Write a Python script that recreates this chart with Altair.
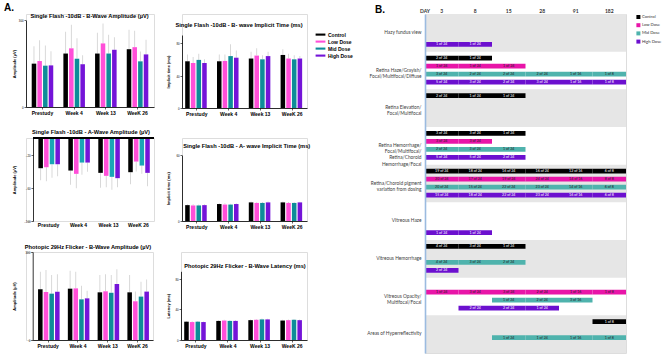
import altair as alt
import pandas as pd

FONT = "Liberation Sans"
BFONT = "Lato"

visits = ["Prestudy", "Week 4", "Week 13", "WeeK 26"]
doses = ["Control", "Low Dose", "Mid Dose", "High Dose"]

# Panel A values: one row per visit, columns = Control, Low, Mid, High dose
b_amp_mean = [[150, 159, 143, 144], [185, 203, 167, 148], [185, 220, 185, 198], [200, 207, 158, 182]]
b_amp_sd = [[60, 72, 70, 49], [75, 82, 71, 31], [72, 69, 65, 43], [67, 57, 34, 51]]
b_imp_mean = [[57.6, 55.5, 59.3, 55.5], [57.6, 58, 64, 62], [61, 64.6, 60, 64], [65.4, 61, 60, 61]]
b_imp_sd = [[8.4, 7.5, 7.7, 4.5], [8.4, 8, 14.6, 9], [8.5, 9.1, 5, 5.5], [7, 6, 5, 3]]
a_amp_mean = [[-36.4, -35.2, -31.6, -31.6], [-39.2, -43.2, -29.6, -29.6], [-42, -45.6, -46.8, -48.4], [-41.2, -28.4, -33.2, -42]]
a_amp_sd = [[14.6, 16.8, 16.4, 14.4], [17.2, 17.2, 14.8, 11.2], [18, 13.6, 15.6, 10.8], [14.4, 12, 10, 16]]
a_imp_mean = [[14.5, 14.2, 14.2, 14.5], [15.5, 15, 15, 15.5], [17, 16.5, 16.5, 17], [17, 16.5, 16.5, 17]]
a_imp_sd = [[0.8, 1.0, 0.8, 0.7], [0.8, 1.2, 0.8, 0.7], [0.8, 0.7, 0.8, 0.7], [0.7, 0.8, 0.7, 0.6]]
f_amp_mean = [[172.7, 163.6, 158, 164.8], [175, 176, 138.6, 142], [162.5, 166, 161, 191], [162.5, 132, 148, 165]]
f_amp_sd = [[60, 75, 64, 59], [61, 57, 46, 26], [59, 58, 61, 50], [59, 33, 51, 41]]
f_lat_mean = [[24, 23.5, 24, 23.5], [25, 25.5, 25, 25], [26, 26.5, 27, 27], [25.5, 26, 26.5, 26]]
f_lat_sd = [[0.8, 0.9, 0.8, 0.8], [1, 0.9, 1, 0.9], [1, 1, 1.2, 1], [1, 1, 1, 1]]

A_COLORS = ["#000000", "#ff4fd8", "#0e8c99", "#7414d8"]
A_COLORS_LIGHT = ["#000000", "#ff4fd8", "#19a6b5", "#7414d8"]
B_COLORS = ["#000000", "#e815a8", "#4fb3ad", "#6c10cf"]

# Panel B
groups = [
    "Hazy fundus view",
    "Retina Haze/Grayish/|Focal/Multifocal/Diffuse",
    "Retina Elevation/|Focal/Multifocal",
    "Retina Hemorrhage/|Focal/Multifocal/|Retina/Choroid|Hemorrhage/Focal",
    "Retina/Choroid pigment|variation from dosing",
    "Vitreous Haze",
    "Vitreous Hemorrhage",
    "Vitreous Opacity/|Multifocal/Focal",
    "Areas of Hyperreflectivity",
]
days = ["3", "8", "15", "28", "91", "182"]
findings = [
    (0, "High Dose", 0, ["1 of 24", "1 of 24"]),
    (1, "Control", 0, ["2 of 24", "1 of 24"]),
    (1, "Low Dose", 0, ["1 of 24", "1 of 24", "1 of 24"]),
    (1, "Mid Dose", 0, ["3 of 24", "2 of 24", "2 of 24", "2 of 24", "1 of 16", "1 of 8"]),
    (1, "High Dose", 0, ["5 of 24", "3 of 24", "2 of 24", "3 of 24", "1 of 16", "1 of 8"]),
    (2, "Control", 0, ["2 of 24", "1 of 24", "1 of 24"]),
    (3, "Control", 0, ["3 of 24", "3 of 24", "1 of 24"]),
    (3, "Low Dose", 0, ["3 of 24", "3 of 24"]),
    (3, "Mid Dose", 0, ["2 of 24", "3 of 24", "1 of 24"]),
    (3, "High Dose", 0, ["5 of 24", "5 of 24", "2 of 24"]),
    (4, "Control", 0, ["19 of 24", "18 of 24", "16 of 24", "16 of 24", "12 of 16", "6 of 8"]),
    (4, "Low Dose", 0, ["20 of 24", "17 of 24", "19 of 24", "24 of 24", "14 of 16", "8 of 8"]),
    (4, "Mid Dose", 0, ["20 of 24", "15 of 24", "22 of 24", "23 of 24", "14 of 16", "6 of 8"]),
    (4, "High Dose", 0, ["15 of 24", "18 of 24", "22 of 24", "23 of 24", "16 of 16", "6 of 8"]),
    (5, "High Dose", 0, ["1 of 24", "1 of 24"]),
    (6, "Control", 0, ["4 of 24", "3 of 24", "1 of 24"]),
    (6, "Mid Dose", 0, ["4 of 24", "3 of 24", "2 of 24"]),
    (6, "High Dose", 0, ["2 of 24"]),
    (7, "Low Dose", 0, ["1 of 24", "3 of 24", "3 of 24", "2 of 24", "1 of 16", "1 of 8"]),
    (7, "Mid Dose", 2, ["1 of 24", "2 of 24", "3 of 16"]),
    (7, "High Dose", 1, ["2 of 24", "2 of 24", "1 of 24"]),
    (8, "Control", 5, ["1 of 8"]),
    (8, "Mid Dose", 2, ["1 of 24", "1 of 24", "1 of 16", "1 of 8"]),
]


def frame(means, sds):
    rows = []
    for i, v in enumerate(visits):
        for j, d in enumerate(doses):
            m, s = means[i][j], sds[i][j]
            rows.append({"visit": v, "dose": d, "mean": m, "end": m + s if m >= 0 else m - s})
    return pd.DataFrame(rows)


def label_layer(txt, px, py, **kw):
    return alt.Chart(pd.DataFrame({"t": [txt]})).mark_text(**kw).encode(
        x=alt.value(px), y=alt.value(py), text="t:N")


def anchors(tl, br):
    # invisible corner markers fixing each panel's extent in the layout
    return [
        label_layer(".", tl[0], tl[1], fontSize=1, opacity=0, align="left", baseline="top"),
        label_layer(".", br[0], br[1], fontSize=1, opacity=0, align="right", baseline="bottom"),
    ]


def bar_panel(means, sds, title, tpos, ytitle, ydom, ystep, w, h, tpad, tl, br,
              legend=None, neg=False, pi=0.32, po=0.18, extra=(), top=0.0, left=0.0,
              colors=A_COLORS):
    df = frame(means, sds)
    base = alt.Chart(df)
    ticks = list(range(ydom[0], ydom[1] + 1, ystep))
    xaxis = alt.Axis(title=None, labelAngle=0, labelFontSize=5, labelFontWeight="bold",
                     labelFont=FONT, labelColor="black", domain=not neg, domainColor="black",
                     domainWidth=0.8, ticks=not neg, tickSize=2, tickColor="black",
                     tickWidth=0.6, labelPadding=1.5)
    xscale = alt.Scale(paddingInner=pi, paddingOuter=po, range=[left, w])
    xoff = alt.XOffset("dose:N", sort=doses, scale=alt.Scale(domain=doses, paddingInner=0.2))
    yaxis = alt.Axis(values=ticks, title=ytitle, titleFontSize=4, titleFont=FONT,
                     titleFontWeight="bold", titleColor="black", titlePadding=tpad,
                     labelFontSize=2.8, labelFont=FONT, labelColor="black", tickSize=2,
                     tickColor="black", tickWidth=0.6, domainColor="black", domainWidth=0.8,
                     grid=False, labelPadding=1, offset=-left)
    yscale = alt.Scale(domain=ydom, nice=False, range=[h, top])
    color = alt.Color("dose:N", sort=doses, scale=alt.Scale(domain=doses, range=colors),
                      legend=legend)
    bars = base.mark_bar().encode(
        x=alt.X("visit:N", sort=visits, scale=xscale, axis=xaxis),
        xOffset=xoff,
        y=alt.Y("mean:Q", scale=yscale, axis=yaxis),
        color=color,
    )
    err = base.mark_bar(width=0.8, color="#cfcfcf").encode(
        x=alt.X("visit:N", sort=visits, scale=xscale, axis=xaxis),
        xOffset=xoff,
        y=alt.Y("mean:Q"),
        y2="end:Q",
    )
    layers = [err, bars]
    if neg:
        layers.append(base.mark_rule(color="black", strokeWidth=0.8).encode(
            y=alt.datum(0), x=alt.value(left), x2=alt.value(w)))
    layers.append(label_layer(title, tpos[0], tpos[1], fontSize=5.7, fontWeight="bold",
                              font=FONT, align="center", baseline="middle", color="black"))
    layers.extend(extra)
    layers.extend(anchors(tl, br))
    return alt.layer(*layers).properties(width=w, height=h)


legA = alt.Legend(orient="none", legendX=135, legendY=17.1, title=None,
                  symbolType="M-1.4,-0.3H1.4V0.3H-1.4Z", symbolSize=49,
                  labelFontSize=5, labelFontWeight="bold", labelFont=FONT, labelColor="black",
                  rowPadding=0, symbolStrokeWidth=0, labelOffset=4, padding=0)

a_mark = label_layer("A.", -22, -2.6, fontSize=10, fontWeight="bold", font=FONT,
                     align="left", baseline="alphabetic", color="black")

# Row 1 (view tops at y = 12.7)
r1l = bar_panel(b_amp_mean, b_amp_sd, "Single Flash -10dB - B-Wave Amplitude (µV)", (63.5, 1.8),
                "Amplitude (µV)", [0, 300], 50, 128, 93, 2, (-25, -12.7), (133, 108),
                extra=[a_mark], top=6.3)
r1r = bar_panel(b_imp_mean, b_imp_sd, "Single Flash -10dB - B- wave Implicit Time (ms)", (57, 11.3),
                "Implicit time (ms)", [0, 90], 10, 125, 94, 5.6, (-21, -12), (177, 108),
                legend=legA, pi=0.27, po=0.1, top=21)
# Row 2
r2l = bar_panel(a_amp_mean, a_amp_sd, "Single Flash -10dB - A-Wave Amplitude (µV)", (65, -6),
                "Amplitude (µV)", [-100, 0], 20, 128, 83, 7.4, (-25, -14), (133, 99),
                neg=True, left=7, colors=A_COLORS_LIGHT)
r2r = bar_panel(a_imp_mean, a_imp_sd, "Single Flash -10dB - A- wave Implicit Time (ms)", (64.7, 8.3),
                "Implicit time (ms)", [0, 60], 10, 125, 83, 5.3, (-21, -14), (177, 99),
                pi=0.27, po=0.1, top=17.3)
# Row 3
r3l = bar_panel(f_amp_mean, f_amp_sd, "Photopic 29Hz Flicker - B-Wave Amplitude (µV)", (62, -5),
                "Amplitude (µV)", [0, 300], 50, 127, 88, 8.7, (-25, -13), (133, 103), left=6.7)
r3r = bar_panel(f_lat_mean, f_lat_sd, "Photopic 29Hz Flicker - B-Wave Latency (ms)", (64, 14),
                "Latency (ms)", [0, 90], 10, 126, 88, 4.6, (-20, -13), (178, 103),
                pi=0.27, po=0.1, top=19.3)


def row(left, right):
    return alt.hconcat(left, right, spacing=0).resolve_scale(color="independent")


panelA = alt.vconcat(row(r1l, r1r), row(r2l, r2r), row(r3l, r3r),
                     spacing=0).resolve_scale(color="independent")

# ---- Panel B ----
cells = []
for g, dose, start, labels in findings:
    for k, lab in enumerate(labels):
        cells.append({"group": groups[g], "dose": dose, "p0": start + k, "p1": start + k + 1,
                      "pm": start + k + 0.5, "label": lab})
cells = pd.DataFrame(cells)
bands = pd.DataFrame({"group": groups, "x0": 0, "x1": len(days),
                      "shade": [i % 2 == 0 for i in range(len(groups))]})
day_df = pd.DataFrame({"label": ["DAY"] + days,
                       "xpos": [0] + [i + 0.5 for i in range(len(days))]})

xs = alt.Scale(domain=[0, len(days)], nice=False, zero=False)
ys = alt.Scale(domain=groups, paddingInner=0, paddingOuter=0)
yoff = alt.YOffset("dose:N", sort=doses,
                   scale=alt.Scale(domain=doses, paddingInner=0.41, paddingOuter=0.56, align=0.45))
yaxis = alt.Axis(title=None, labelExpr="split(datum.label, '|')", ticks=False,
                 domainColor="#9bbbe0", domainWidth=1.6, labelFontSize=4.8, labelFont=BFONT,
                 labelColor="#404040", labelPadding=4, labelLineHeight=6.3, labelLimit=0)
yenc = alt.Y("group:N", sort=groups, scale=ys, axis=yaxis)

legB = alt.Legend(orient="none", legendX=211.3, legendY=0.9, title=None, symbolType="square",
                  symbolSize=16, labelFontSize=4.2, labelFont=BFONT, labelColor="#333333",
                  rowPadding=3.2, symbolStrokeWidth=0, labelOffset=1.4, padding=0)

band_layer = alt.Chart(bands).transform_filter("datum.shade").mark_rect(color="#e6e6e6").encode(
    x=alt.X("x0:Q", scale=xs, axis=None), x2="x1:Q", y=yenc)
bar_layer = alt.Chart(cells).mark_bar().encode(
    x=alt.X("p0:Q", scale=xs, axis=None), x2="p1:Q", y=yenc, yOffset=yoff,
    color=alt.Color("dose:N", sort=doses, scale=alt.Scale(domain=doses, range=B_COLORS),
                    legend=legB))
text_layer = alt.Chart(cells).mark_text(fontSize=3.6, font=BFONT, baseline="middle").encode(
    x=alt.X("pm:Q", scale=xs, axis=None), y=yenc, yOffset=yoff, text="label:N",
    color=alt.condition(alt.FieldOneOfPredicate(field="dose", oneOf=["Control", "High Dose"]),
                        alt.value("white"), alt.value("#222222")))
day_layer = alt.Chart(day_df).mark_text(fontSize=5, fontWeight="bold", font=BFONT,
                                        baseline="middle", color="#333333").encode(
    x=alt.X("xpos:Q", scale=xs, axis=None), y=alt.value(-3.4), text="label:N")
b_mark = label_layer("B.", -50, -1, fontSize=10, fontWeight="bold", font=FONT,
                     align="left", baseline="alphabetic", color="black")

panelB = alt.layer(band_layer, bar_layer, text_layer, day_layer, b_mark,
                   *anchors((-64.5, -12), (201, 339))).properties(width=201, height=339)

chart = alt.hconcat(panelA, panelB, spacing=0).resolve_scale(color="independent").properties(
    padding={"left": 0, "top": 0, "right": 0, "bottom": 0}
).configure_view(stroke=None).configure(font=FONT)

chart.save("out.html", embed_options={"renderer": "svg", "actions": False})
